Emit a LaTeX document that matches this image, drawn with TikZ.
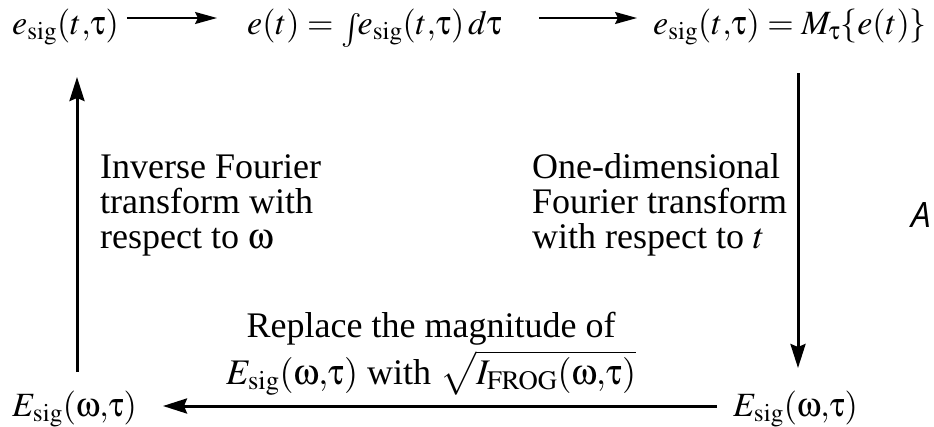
\documentclass[tikz,border=0pt]{standalone}
\usepackage{mathptmx}
\usepackage[Symbol]{upgreek}
\usepackage{fontspec}
\setmainfont{Liberation Serif}
\newfontfamily\asans{Open Sans}
\usetikzlibrary{arrows.meta,calc}
\begin{document}
\begin{tikzpicture}[x=1pt,y=-1pt,
  lbl/.style={inner sep=0pt, font=\fontsize{34}{35}\selectfont},
  txt/.style={inner sep=0pt, font=\fontsize{36}{35}\selectfont},
  thinarr/.style={line width=1.7pt,-{Stealth[length=22pt,width=12pt,inset=3pt]}},
  thickarr/.style={line width=3pt,-{Stealth[length=24pt,width=15pt,inset=3pt]}}]
\useasboundingbox (0,0) rectangle (934,426);
\node[lbl,anchor=base west] (t1) at (12,34) {$e_{\mathrm{sig}}(t{,}\uptau)$};
\node[lbl,anchor=base west] (t2) at (247,34) {$e(t) = \raisebox{-5pt}{$\int$}\! e_{\mathrm{sig}}(t{,}\uptau)\, d\uptau$};
\node[lbl,anchor=base west] (t3) at (653,34) {$e_{\mathrm{sig}}(t{,}\uptau) = M_{\uptau}\{e(t)\}$};
\node[lbl,anchor=base west] (bl) at (12,416) {$E_{\mathrm{sig}}(\upomega{,}\uptau)$};
\node[lbl,anchor=base west] (br) at (733,416) {$E_{\mathrm{sig}}(\upomega{,}\uptau)$};
\node[txt,anchor=base west,align=left] (inv) at (100,248) {Inverse Fourier\\transform with\\respect to $\upomega$};
\node[txt,anchor=base west,align=left] (fwd) at (532,248) {One-dimensional\\Fourier transform\\with respect to $t$};
\node[txt,anchor=base,align=center] (rep) at (431,384) {Replace the magnitude of\\[4pt]$E_{\mathrm{sig}}(\upomega{,}\uptau)$ with $\sqrt{I_{\mathrm{FROG}}(\upomega{,}\uptau)}$};
\node[inner sep=0pt,anchor=base west,font=\asans\itshape\fontsize{35}{35}\selectfont] (lab) at (911,227) {A};
\draw[thinarr] ($(t1.base east)+(8,-16)$) -- ($(t2.base west)+(-30,-16)$);
\draw[thinarr] ($(t2.base east)+(37,-16)$) -- ($(t3.base west)+(-16,-16)$);
\draw[thickarr] ($(t3.base west)+(145,39)$) -- ($(br.base west)+(65,-48)$);
\draw[thickarr] ($(br.base west)+(-16,-10)$) -- ($(bl.base west)+(151,-10)$);
\draw[thickarr] ($(bl.base west)+(65,-44)$) -- ($(t1.base west)+(65,43)$);
\end{tikzpicture}
\end{document}
